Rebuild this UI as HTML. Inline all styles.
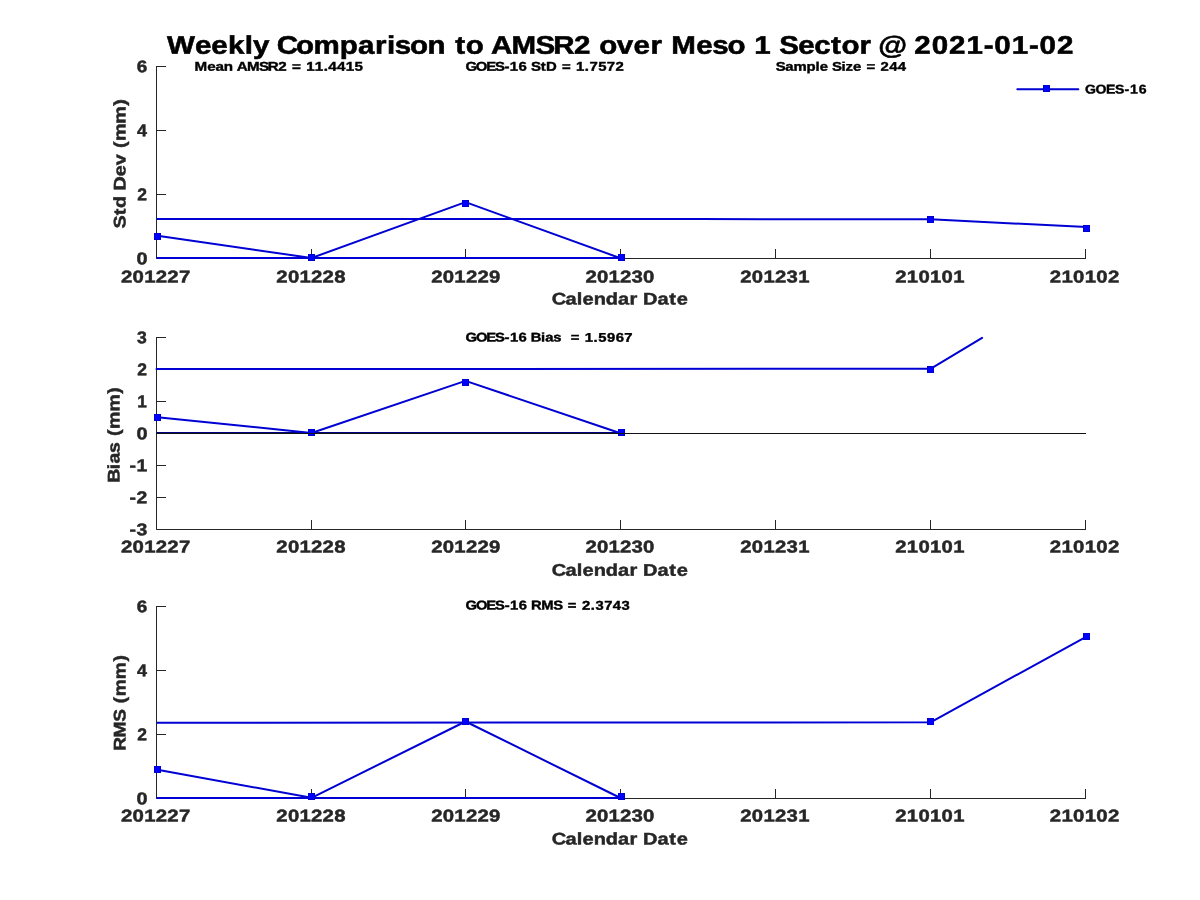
<!DOCTYPE html>
<html><head><meta charset="utf-8"><style>
html,body{margin:0;padding:0;background:#fff;}
svg{display:block;will-change:transform;}
text{font-family:"Liberation Sans",sans-serif;font-weight:bold;white-space:pre;text-rendering:geometricPrecision;}
</style></head><body>
<svg width="1200" height="900" viewBox="0 0 1200 900">

<rect width="1200" height="900" fill="#fff"/>
<path d="M156.5 66V258.5H1086" fill="none" stroke="#262626" stroke-width="1"/>
<path d="M156.5 66.5H166" stroke="#262626" stroke-width="1"/>
<path d="M156.5 130.5H166" stroke="#262626" stroke-width="1"/>
<path d="M156.5 194.5H166" stroke="#262626" stroke-width="1"/>
<path d="M156.5 258.5H166" stroke="#262626" stroke-width="1"/>
<path d="M311.5 258.5V249" stroke="#262626" stroke-width="1"/>
<path d="M465.5 258.5V249" stroke="#262626" stroke-width="1"/>
<path d="M620.5 258.5V249" stroke="#262626" stroke-width="1"/>
<path d="M775.5 258.5V249" stroke="#262626" stroke-width="1"/>
<path d="M930.5 258.5V249" stroke="#262626" stroke-width="1"/>
<path d="M1085.5 258.5V249" stroke="#262626" stroke-width="1"/>
<path d="M156.5 337V529.5H1086" fill="none" stroke="#262626" stroke-width="1"/>
<path d="M156.5 337.5H166" stroke="#262626" stroke-width="1"/>
<path d="M156.5 369.5H166" stroke="#262626" stroke-width="1"/>
<path d="M156.5 401.5H166" stroke="#262626" stroke-width="1"/>
<path d="M156.5 433.5H166" stroke="#262626" stroke-width="1"/>
<path d="M156.5 465.5H166" stroke="#262626" stroke-width="1"/>
<path d="M156.5 497.5H166" stroke="#262626" stroke-width="1"/>
<path d="M156.5 529.5H166" stroke="#262626" stroke-width="1"/>
<path d="M311.5 529.5V520" stroke="#262626" stroke-width="1"/>
<path d="M465.5 529.5V520" stroke="#262626" stroke-width="1"/>
<path d="M620.5 529.5V520" stroke="#262626" stroke-width="1"/>
<path d="M775.5 529.5V520" stroke="#262626" stroke-width="1"/>
<path d="M930.5 529.5V520" stroke="#262626" stroke-width="1"/>
<path d="M1085.5 529.5V520" stroke="#262626" stroke-width="1"/>
<path d="M156.5 606V798.5H1086" fill="none" stroke="#262626" stroke-width="1"/>
<path d="M156.5 606.5H166" stroke="#262626" stroke-width="1"/>
<path d="M156.5 670.5H166" stroke="#262626" stroke-width="1"/>
<path d="M156.5 734.5H166" stroke="#262626" stroke-width="1"/>
<path d="M156.5 798.5H166" stroke="#262626" stroke-width="1"/>
<path d="M311.5 798.5V789" stroke="#262626" stroke-width="1"/>
<path d="M465.5 798.5V789" stroke="#262626" stroke-width="1"/>
<path d="M620.5 798.5V789" stroke="#262626" stroke-width="1"/>
<path d="M775.5 798.5V789" stroke="#262626" stroke-width="1"/>
<path d="M930.5 798.5V789" stroke="#262626" stroke-width="1"/>
<path d="M1085.5 798.5V789" stroke="#262626" stroke-width="1"/>
<path d="M157.5,235.7 L311.5,258.0 L465.5,202.1 L620.5,258.2 L620.5,258 L156.5,258" fill="none" stroke="#0000d4" stroke-width="2" stroke-linejoin="round"/>
<path d="M156.5,219 L700,219.1 L930.5,219.2 L1086.5,227.1" fill="none" stroke="#0000d4" stroke-width="2" stroke-linejoin="round"/>
<rect x="154.5" y="233.5" width="6" height="6" fill="#0000ff" stroke="#0000d0" stroke-width="1"/>
<rect x="308.5" y="254.5" width="6" height="6" fill="#0000ff" stroke="#0000d0" stroke-width="1"/>
<rect x="462.5" y="200.5" width="6" height="6" fill="#0000ff" stroke="#0000d0" stroke-width="1"/>
<rect x="618.5" y="254.5" width="6" height="6" fill="#0000ff" stroke="#0000d0" stroke-width="1"/>
<rect x="927.5" y="216.5" width="6" height="6" fill="#0000ff" stroke="#0000d0" stroke-width="1"/>
<rect x="1083.5" y="225.5" width="6" height="6" fill="#0000ff" stroke="#0000d0" stroke-width="1"/>
<path d="M156.5 433H621.5" stroke="#000080" stroke-width="2"/>
<path d="M157.5,417.2 L311.5,433.0 L465.5,380.9 L620.5,433.2" fill="none" stroke="#0000d4" stroke-width="2" stroke-linejoin="round"/>
<path d="M156.5 369L930.5 368.8L982.1 337.9" fill="none" stroke="#0000d4" stroke-width="2" stroke-linejoin="round" stroke-linecap="round"/>
<rect x="154.5" y="414.5" width="6" height="6" fill="#0000ff" stroke="#0000d0" stroke-width="1"/>
<rect x="308.5" y="429.5" width="6" height="6" fill="#0000ff" stroke="#0000d0" stroke-width="1"/>
<rect x="462.5" y="379.5" width="6" height="6" fill="#0000ff" stroke="#0000d0" stroke-width="1"/>
<rect x="618.5" y="429.5" width="6" height="6" fill="#0000ff" stroke="#0000d0" stroke-width="1"/>
<rect x="927.5" y="366.5" width="6" height="6" fill="#0000ff" stroke="#0000d0" stroke-width="1"/>
<path d="M156.5 433.5H1086" stroke="#111" stroke-width="1"/>
<path d="M157.5,769.8 L311.5,797.8 L465.5,721.5 L620.5,798.0 L156.5,798" fill="none" stroke="#0000d4" stroke-width="2" stroke-linejoin="round"/>
<path d="M156.5,722.8 L700,722.5 L930.5,722.3 L1086.5,636.6" fill="none" stroke="#0000d4" stroke-width="2" stroke-linejoin="round"/>
<rect x="154.5" y="766.5" width="6" height="6" fill="#0000ff" stroke="#0000d0" stroke-width="1"/>
<rect x="308.5" y="793.5" width="6" height="6" fill="#0000ff" stroke="#0000d0" stroke-width="1"/>
<rect x="462.5" y="718.5" width="6" height="6" fill="#0000ff" stroke="#0000d0" stroke-width="1"/>
<rect x="618.5" y="793.5" width="6" height="6" fill="#0000ff" stroke="#0000d0" stroke-width="1"/>
<rect x="927.5" y="718.5" width="6" height="6" fill="#0000ff" stroke="#0000d0" stroke-width="1"/>
<rect x="1083.5" y="633.5" width="6" height="6" fill="#0000ff" stroke="#0000d0" stroke-width="1"/>
<path d="M1017.3 89.3H1078.3" stroke="#0000d4" stroke-width="2" stroke-linecap="round"/>
<rect x="1043.5" y="85.5" width="6" height="6" fill="#0000ff" stroke="#0000d0" stroke-width="1"/>
<text x="144.08 168.23 182.09 196.58 211.00 218.18" y="0" transform="rotate(0.03 210.1 53.7) translate(0,53.72) scale(1.1599,1)" font-size="25.45" fill="#000" stroke="#000" stroke-width="0.55">Weekly</text>
<text x="238.53 255.28 270.39 292.89 308.59 323.31 333.75 340.33 353.46 368.55" y="0" transform="rotate(0.03 352.1 53.7) translate(0,53.72) scale(1.1599,1)" font-size="25.45" fill="#000" stroke="#000" stroke-width="0.55">Comparison</text>
<text x="392.44 401.47" y="0" transform="rotate(0.03 460.4 53.7) translate(0,53.72) scale(1.1599,1)" font-size="25.45" fill="#000" stroke="#000" stroke-width="0.55">to</text>
<text x="423.33 441.00 461.62 476.99 494.92" y="0" transform="rotate(0.03 532.6 53.7) translate(0,53.72) scale(1.1599,1)" font-size="25.45" fill="#000" stroke="#000" stroke-width="0.55">AMSR2</text>
<text x="516.65 531.79 546.14 560.90" y="0" transform="rotate(0.03 624.9 53.7) translate(0,53.72) scale(1.1599,1)" font-size="25.45" fill="#000" stroke="#000" stroke-width="0.55">over</text>
<text x="578.82 600.39 614.13 627.27" y="0" transform="rotate(0.03 699.5 53.7) translate(0,53.72) scale(1.1599,1)" font-size="25.45" fill="#000" stroke="#000" stroke-width="0.55">Meso</text>
<text x="650.39" y="0" transform="rotate(0.03 754.4 53.7) translate(0,53.72) scale(1.1599,1)" font-size="25.45" fill="#000" stroke="#000" stroke-width="0.55">1</text>
<text x="671.77 688.27 701.98 716.37 725.40 740.95" y="0" transform="rotate(0.03 819.3 53.7) translate(0,53.72) scale(1.1599,1)" font-size="25.45" fill="#000" stroke="#000" stroke-width="0.55">Sector</text>
<text x="757.12" y="0" transform="rotate(0.03 878.2 53.7) translate(0,53.72) scale(1.1599,1)" font-size="25.45" fill="#000" stroke="#000" stroke-width="0.55">@</text>
<text x="788.25 803.26 818.28 833.29 848.11 857.26 872.27 887.09 896.24 911.25" y="0" transform="rotate(0.03 985.7 53.7) translate(0,53.72) scale(1.1599,1)" font-size="25.45" fill="#000" stroke="#000" stroke-width="0.55">2021-01-02</text>
<text x="163.63 174.19 181.31 188.26 195.96 199.03 207.63 217.71 225.20 233.97 241.24 245.53 253.72 257.44 264.76 272.19 276.08 283.40 290.72 298.04" y="0" transform="rotate(0.03 274.5 70.8) translate(0,70.81) scale(1.1892,1)" font-size="12.75" fill="#000" stroke="#000" stroke-width="0.39">Mean AMSR2 = 11.4415</text>
<text x="398.24 407.16 416.06 423.55 431.74 436.25 443.68 451.03 454.26 462.78 467.29 476.41 480.79 489.08 492.88 500.40 504.37 511.80 519.23 526.66" y="0" transform="rotate(0.03 540.4 70.8) translate(0,70.81) scale(1.1687,1)" font-size="12.75" fill="#000" stroke="#000" stroke-width="0.39">GOES-16 StD = 1.7572</text>
<text x="654.99 663.01 669.92 680.89 688.53 692.14 699.27 702.43 710.45 713.91 720.17 727.30 731.60 739.74 743.47 750.77 758.07" y="0" transform="rotate(0.03 836.8 70.8) translate(0,70.81) scale(1.1844,1)" font-size="12.57" fill="#000" stroke="#000" stroke-width="0.39">Sample Size = 244</text>
<text x="975.61 985.11 994.53 1002.51 1011.08 1015.99 1023.90" y="0" transform="rotate(0.03 1111.8 93.6) translate(0,93.61) scale(1.1121,1)" font-size="12.66" fill="#000" stroke="#000" stroke-width="0.39">GOES-16</text>
<text x="394.85 403.71 412.53 419.96 428.08 432.56 439.94 447.22 450.31 458.96 462.60 469.33 476.08 479.77 484.13 492.34 496.12 503.57 507.52 514.90 522.27 529.65" y="0" transform="rotate(0.03 544.9 341.6) translate(0,341.61) scale(1.1788,1)" font-size="12.57" fill="#000" stroke="#000" stroke-width="0.39">GOES-16 Bias  = 1.5967</text>
<text x="401.60 410.62 419.60 427.17 435.42 440.00 447.50 454.91 458.11 466.93 477.25 485.49 489.94 498.29 502.15 509.73 513.76 521.27 528.78 536.29" y="0" transform="rotate(0.03 543.5 609.6) translate(0,609.61) scale(1.1590,1)" font-size="12.75" fill="#000" stroke="#000" stroke-width="0.39">GOES-16 RMS = 2.3743</text>
<text x="101.44 111.18 120.92 130.65 140.39 150.13" y="0" transform="rotate(0.03 150.0 282.5) translate(0,282.50) scale(1.1923,1)" font-size="17.10" fill="#262626" stroke="#262626" stroke-width="0.45">201227</text>
<text x="232.48 242.21 251.94 261.67 271.40 281.13" y="0" transform="rotate(0.03 305.3 282.5) translate(0,282.50) scale(1.1887,1)" font-size="17.10" fill="#262626" stroke="#262626" stroke-width="0.45">201228</text>
<text x="362.23 371.95 381.66 391.38 401.09 410.81" y="0" transform="rotate(0.03 460.2 282.5) translate(0,282.50) scale(1.1905,1)" font-size="17.10" fill="#262626" stroke="#262626" stroke-width="0.45">201229</text>
<text x="491.07 500.73 510.40 520.06 529.73 539.40" y="0" transform="rotate(0.03 614.3 282.5) translate(0,282.50) scale(1.1923,1)" font-size="17.10" fill="#262626" stroke="#262626" stroke-width="0.45">201230</text>
<text x="623.69 633.44 643.20 652.96 662.72 672.48" y="0" transform="rotate(0.03 769.2 282.5) translate(0,282.50) scale(1.1869,1)" font-size="17.10" fill="#262626" stroke="#262626" stroke-width="0.45">201231</text>
<text x="754.28 764.03 773.79 783.55 793.31 803.07" y="0" transform="rotate(0.03 924.2 282.5) translate(0,282.50) scale(1.1869,1)" font-size="17.10" fill="#262626" stroke="#262626" stroke-width="0.45">210101</text>
<text x="880.54 890.29 900.04 909.79 919.54 929.29" y="0" transform="rotate(0.03 1079.0 282.5) translate(0,282.50) scale(1.1923,1)" font-size="17.10" fill="#262626" stroke="#262626" stroke-width="0.45">210102</text>
<text x="465.17 476.56 486.12 491.02 500.41 510.54 520.86 530.55 537.45 542.06 554.13 564.19 570.50" y="0" transform="rotate(0.03 614.3 304.6) translate(0,304.57) scale(1.1864,1)" font-size="16.85" fill="#262626" stroke="#262626" stroke-width="0.45">Calendar Date</text>
<text x="122.84" y="0" transform="rotate(0.03 136.7 72.3) translate(0,72.33) scale(1.1132,1)" font-size="16.98" fill="#262626" stroke="#262626" stroke-width="0.45">6</text>
<text x="129.55" y="0" transform="rotate(0.03 137.0 136.3) translate(0,136.33) scale(1.0575,1)" font-size="16.98" fill="#262626" stroke="#262626" stroke-width="0.45">4</text>
<text x="134.39" y="0" transform="rotate(0.03 137.1 200.3) translate(0,200.33) scale(1.0205,1)" font-size="17.10" fill="#262626" stroke="#262626" stroke-width="0.45">2</text>
<text x="116.17" y="0" transform="rotate(0.03 136.5 264.3) translate(0,264.32) scale(1.1746,1)" font-size="16.98" fill="#262626" stroke="#262626" stroke-width="0.45">0</text>
<text x="-0.52 10.77 16.88 27.22 31.81 43.89 53.30 62.73 67.96 73.88 88.63 103.93" y="0" transform="rotate(0.03 125.6 163.4) translate(125.58,227.97) rotate(-90) scale(1.1771,1)" font-size="16.85" fill="#262626" stroke="#262626" stroke-width="0.45">Std Dev (mm)</text>
<text x="101.44 111.18 120.92 130.65 140.39 150.13" y="0" transform="rotate(0.03 150.0 552.5) translate(0,552.50) scale(1.1923,1)" font-size="17.10" fill="#262626" stroke="#262626" stroke-width="0.45">201227</text>
<text x="232.48 242.21 251.94 261.67 271.40 281.13" y="0" transform="rotate(0.03 305.3 552.5) translate(0,552.50) scale(1.1887,1)" font-size="17.10" fill="#262626" stroke="#262626" stroke-width="0.45">201228</text>
<text x="362.23 371.95 381.66 391.38 401.09 410.81" y="0" transform="rotate(0.03 460.2 552.5) translate(0,552.50) scale(1.1905,1)" font-size="17.10" fill="#262626" stroke="#262626" stroke-width="0.45">201229</text>
<text x="491.07 500.73 510.40 520.06 529.73 539.40" y="0" transform="rotate(0.03 614.3 552.5) translate(0,552.50) scale(1.1923,1)" font-size="17.10" fill="#262626" stroke="#262626" stroke-width="0.45">201230</text>
<text x="623.69 633.44 643.20 652.96 662.72 672.48" y="0" transform="rotate(0.03 769.2 552.5) translate(0,552.50) scale(1.1869,1)" font-size="17.10" fill="#262626" stroke="#262626" stroke-width="0.45">201231</text>
<text x="754.28 764.03 773.79 783.55 793.31 803.07" y="0" transform="rotate(0.03 924.2 552.5) translate(0,552.50) scale(1.1869,1)" font-size="17.10" fill="#262626" stroke="#262626" stroke-width="0.45">210101</text>
<text x="880.54 890.29 900.04 909.79 919.54 929.29" y="0" transform="rotate(0.03 1079.0 552.5) translate(0,552.50) scale(1.1923,1)" font-size="17.10" fill="#262626" stroke="#262626" stroke-width="0.45">210102</text>
<text x="465.17 476.56 486.12 491.02 500.41 510.54 520.86 530.55 537.45 542.06 554.13 564.19 570.50" y="0" transform="rotate(0.03 614.3 575.8) translate(0,575.82) scale(1.1864,1)" font-size="16.85" fill="#262626" stroke="#262626" stroke-width="0.45">Calendar Date</text>
<text x="132.42" y="0" transform="rotate(0.03 137.1 343.3) translate(0,343.32) scale(1.0354,1)" font-size="16.98" fill="#262626" stroke="#262626" stroke-width="0.45">3</text>
<text x="134.39" y="0" transform="rotate(0.03 137.1 375.3) translate(0,375.32) scale(1.0205,1)" font-size="17.10" fill="#262626" stroke="#262626" stroke-width="0.45">2</text>
<text x="134.70" y="0" transform="rotate(0.03 137.2 407.3) translate(0,407.32) scale(1.0185,1)" font-size="16.98" fill="#262626" stroke="#262626" stroke-width="0.45">1</text>
<text x="116.17" y="0" transform="rotate(0.03 136.5 439.3) translate(0,439.32) scale(1.1746,1)" font-size="16.98" fill="#262626" stroke="#262626" stroke-width="0.45">0</text>
<text x="113.40 119.61" y="0" transform="rotate(0.03 133.1 471.3) translate(0,471.32) scale(1.1421,1)" font-size="16.98" fill="#262626" stroke="#262626" stroke-width="0.45">-1</text>
<text x="114.54 120.82" y="0" transform="rotate(0.03 133.1 503.3) translate(0,503.32) scale(1.1308,1)" font-size="17.10" fill="#262626" stroke="#262626" stroke-width="0.45">-2</text>
<text x="113.17 119.37" y="0" transform="rotate(0.03 133.1 535.3) translate(0,535.32) scale(1.1443,1)" font-size="16.98" fill="#262626" stroke="#262626" stroke-width="0.45">-3</text>
<text x="-0.59 11.13 16.12 25.29 34.44 39.78 45.91 60.94 76.44" y="0" transform="rotate(0.03 119.5 434.4) translate(119.48,482.20) rotate(-90) scale(1.1587,1)" font-size="16.85" fill="#262626" stroke="#262626" stroke-width="0.45">Bias (mm)</text>
<text x="101.44 111.18 120.92 130.65 140.39 150.13" y="0" transform="rotate(0.03 150.0 821.5) translate(0,821.50) scale(1.1923,1)" font-size="17.10" fill="#262626" stroke="#262626" stroke-width="0.45">201227</text>
<text x="232.48 242.21 251.94 261.67 271.40 281.13" y="0" transform="rotate(0.03 305.3 821.5) translate(0,821.50) scale(1.1887,1)" font-size="17.10" fill="#262626" stroke="#262626" stroke-width="0.45">201228</text>
<text x="362.23 371.95 381.66 391.38 401.09 410.81" y="0" transform="rotate(0.03 460.2 821.5) translate(0,821.50) scale(1.1905,1)" font-size="17.10" fill="#262626" stroke="#262626" stroke-width="0.45">201229</text>
<text x="491.07 500.73 510.40 520.06 529.73 539.40" y="0" transform="rotate(0.03 614.3 821.5) translate(0,821.50) scale(1.1923,1)" font-size="17.10" fill="#262626" stroke="#262626" stroke-width="0.45">201230</text>
<text x="623.69 633.44 643.20 652.96 662.72 672.48" y="0" transform="rotate(0.03 769.2 821.5) translate(0,821.50) scale(1.1869,1)" font-size="17.10" fill="#262626" stroke="#262626" stroke-width="0.45">201231</text>
<text x="754.28 764.03 773.79 783.55 793.31 803.07" y="0" transform="rotate(0.03 924.2 821.5) translate(0,821.50) scale(1.1869,1)" font-size="17.10" fill="#262626" stroke="#262626" stroke-width="0.45">210101</text>
<text x="880.54 890.29 900.04 909.79 919.54 929.29" y="0" transform="rotate(0.03 1079.0 821.5) translate(0,821.50) scale(1.1923,1)" font-size="17.10" fill="#262626" stroke="#262626" stroke-width="0.45">210102</text>
<text x="465.17 476.56 486.12 491.02 500.41 510.54 520.86 530.55 537.45 542.06 554.13 564.19 570.50" y="0" transform="rotate(0.03 614.3 844.6) translate(0,844.57) scale(1.1864,1)" font-size="16.85" fill="#262626" stroke="#262626" stroke-width="0.45">Calendar Date</text>
<text x="122.84" y="0" transform="rotate(0.03 136.7 612.3) translate(0,612.32) scale(1.1132,1)" font-size="16.98" fill="#262626" stroke="#262626" stroke-width="0.45">6</text>
<text x="129.55" y="0" transform="rotate(0.03 137.0 676.3) translate(0,676.32) scale(1.0575,1)" font-size="16.98" fill="#262626" stroke="#262626" stroke-width="0.45">4</text>
<text x="134.39" y="0" transform="rotate(0.03 137.1 740.3) translate(0,740.32) scale(1.0205,1)" font-size="17.10" fill="#262626" stroke="#262626" stroke-width="0.45">2</text>
<text x="116.17" y="0" transform="rotate(0.03 136.5 804.3) translate(0,804.32) scale(1.1746,1)" font-size="16.98" fill="#262626" stroke="#262626" stroke-width="0.45">0</text>
<text x="-0.51 11.33 25.14 36.15 41.52 47.68 62.76 78.30" y="0" transform="rotate(0.03 125.5 702.4) translate(125.48,750.23) rotate(-90) scale(1.1331,1)" font-size="16.85" fill="#262626" stroke="#262626" stroke-width="0.45">RMS (mm)</text>
</svg>
</body></html>
